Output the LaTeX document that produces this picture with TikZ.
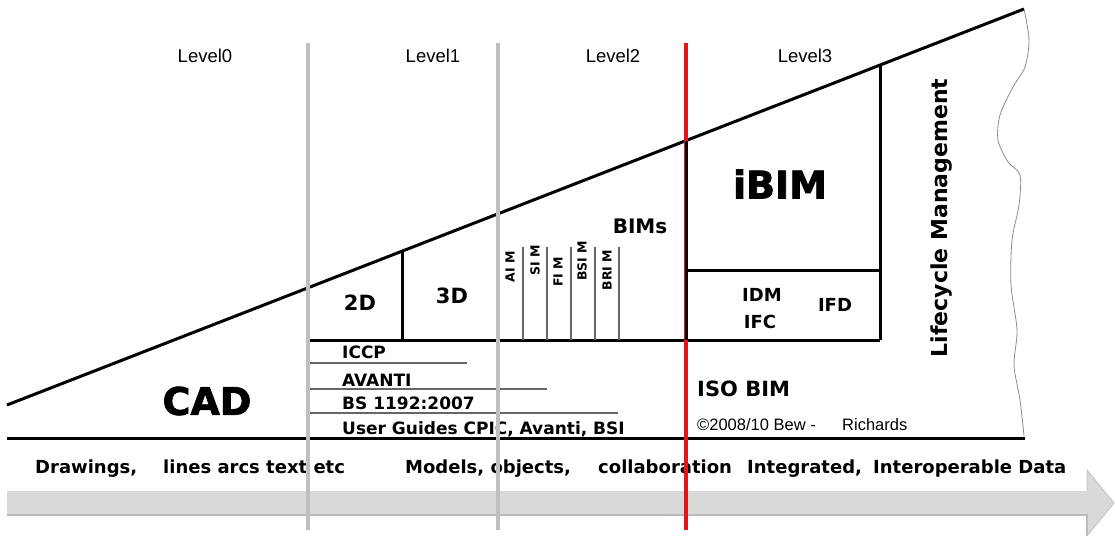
\documentclass[tikz,border=0pt]{standalone}
\usepackage{fontspec}
\setmainfont{Liberation Sans}
\setsansfont{DejaVu Sans}
\newfontfamily\blackfont{DejaVu Sans}[BoldFeatures={FakeBold=2}]

\definecolor{lvlgray}{HTML}{BFBFBF}
\definecolor{lvlred}{HTML}{E3151B}
\definecolor{arrowgray}{HTML}{D9D9D9}

\begin{document}
\begin{tikzpicture}[x=1pt,y=-1pt,
    heavy/.style={line width=3pt},
    fine/.style={line width=1.2pt,black!60},
    lvlline/.style={line width=4pt,lvlgray},
    level/.style={font=\fontsize{18.5}{20}\selectfont},
    tag/.style={font=\sffamily\bfseries\fontsize{#1}{#1}\selectfont,inner sep=0pt},
    big/.style={font=\blackfont\bfseries\fontsize{#1}{#1}\selectfont,inner sep=0pt},
    mini/.style={font=\sffamily\bfseries\fontsize{12.5}{12.5}\selectfont,inner sep=0pt,rotate=90}]
  \useasboundingbox (0,0) rectangle (1115,535);

  % arrow along the bottom
  \fill[arrowgray] (7,491) -- (1087,491) -- (1087,470) -- (1114,503) -- (1087,536)
    -- (1087,515) -- (7,515) -- cycle;
  \draw[black!27,line width=1.5pt] (7,515) -- (1087,515) -- (1087,536);
  \draw[black!22,line width=1pt] (1087,491) -- (1087,470) -- (1114,503) -- (1087,536);

  % wedge
  \draw[heavy] (7,405) -- (1024,9);
  \draw[heavy] (7,438) -- (1025,438);
  \draw[black!45,line width=0.8pt] plot[smooth] coordinates {(1024,9) (1029,40) (1025,67)
    (1013,87) (1000,115) (998,140) (1008,162) (1020,175) (1019,205) (1012,240)
    (1011,285) (1017,330) (1014,365) (1020,400) (1024,436)};

  % levels
  \node[level] (lv0) at (205,56) {Level0};
  \node[level] (lv1) at (433,56) {Level1};
  \node[level] (lv2) at (613,56) {Level2};
  \node[level] (lv3) at (805,56) {Level3};

  % inner boxes
  \draw[heavy] (402,251.2) -- (402,340);
  \draw[heavy] (310,340) -- (880,340);
  \draw[heavy] (880,65.1) -- (880,340);
  \draw[heavy] (686,270) -- (880,270);
  \foreach \x in {523,547,571,595,619}
    \draw[fine] (\x,247) -- (\x,340);
  \draw[fine] (310,363) -- (467,363);
  \draw[fine] (310,389) -- (547,389);
  \draw[fine] (310,413) -- (618,413);

  \node[big=38] (cad) at (207,401) {CAD};
  \node[tag=21] (twod) at (360,303) {2D};
  \node[tag=21] (threed) at (452,296) {3D};
  \node[tag=20] (bims) at (640,226) {BIMs};
  \node[mini] (aim) at (510,267) {AI M};
  \node[mini] (sim) at (535,260) {SI M};
  \node[mini] (fim) at (558,272) {FI M};
  \node[mini] (bsim) at (582,261) {BSI M};
  \node[mini] (brim) at (607,270) {BRI M};
  \node[big=38] (ibim) at (780,184) {iBIM};
  \node[tag=18] (idm) at (762,295) {IDM};
  \node[tag=18] (ifc) at (760,322) {IFC};
  \node[tag=18] (ifd) at (835,305) {IFD};
  \node[tag=22,rotate=90] (life) at (942,218) {Lifecycle Management};

  \node[tag=17,anchor=base west] (iccp) at (342,358) {ICCP};
  \node[tag=17,anchor=base west] (avanti) at (342,386) {AVANTI};
  \node[tag=17,anchor=base west] (bs) at (342,409) {BS 1192:2007};
  \node[tag=17,anchor=base west] (guides) at (342,434) {User Guides CPIC, Avanti, BSI};
  \node[tag=21,anchor=base west] (iso) at (697,396) {ISO BIM};
  \node[anchor=base west,inner sep=0pt,font=\fontsize{16.5}{17}\selectfont] (copy) at (697,430) {\textcopyright2008/10 Bew -};
  \node[anchor=base west,inner sep=0pt,font=\fontsize{16.5}{17}\selectfont] (rich) at (842,430) {Richards};

  % bottom captions
  \node[tag=18,anchor=base west] (drw) at (35,473) {Drawings,};
  \node[tag=18,anchor=base west] (lines) at (163,473) {lines arcs text etc};
  \node[tag=18,anchor=base west] (models) at (405,473) {Models, objects,};
  \node[tag=18,anchor=base west] (collab) at (598,473) {collaboration};
  \node[tag=18,anchor=base west] (integ) at (747,473) {Integrated,};
  \node[tag=18,anchor=base west] (data) at (873,473) {Interoperable Data};

  % level dividers
  \draw[line width=3.5pt,lvlred] (686,43) -- (686,530);
  \draw[heavy] (686,140.6) -- (686,340);
  \draw[lvlline] (308,43) -- (308,530);
  \draw[lvlline] (498,43) -- (498,530);
\end{tikzpicture}
\end{document}
